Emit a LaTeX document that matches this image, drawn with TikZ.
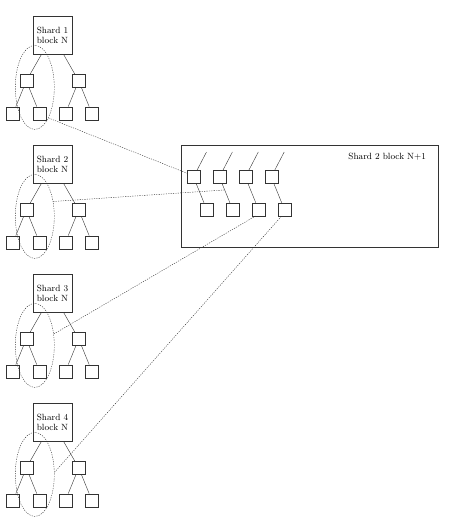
\documentclass[tikz,border=0pt]{standalone}
\usepackage{amsmath}
\usetikzlibrary{calc,positioning,shapes.geometric}

\begin{document}
\begin{tikzpicture}[
                x=1pt,y=1pt,
                every node/.append style={draw=black!80,inner sep=0pt},
                leaf/.style={rectangle,minimum size=13pt},
                root/.style={rectangle,minimum width=39pt,minimum height=38pt,align=center,font=\fontsize{9}{10}\selectfont},
                ring/.style={ellipse,minimum width=39pt,minimum height=84pt,dash pattern=on 1.2pt off 1.2pt},
                link/.style={black!80,dash pattern=on 1.2pt off 1.2pt}
            ]
                \useasboundingbox (0,0) rectangle (459,-517);
                % block N trees
                \foreach \s in {1,...,4}{
                    \node[root] (R\s) at (52.5,{-35-129*(\s-1)}) {Shard \s\\block N};
                    \node[leaf] (A\s) [below left=20pt and 19.5pt of R\s.south]  {};
                    \node[leaf] (B\s) [below right=20pt and 19.5pt of R\s.south] {};
                    \node[leaf] (L\s-1) [below left=19pt and 6.5pt of A\s.south]  {};
                    \node[leaf] (L\s-2) [below right=19pt and 6.5pt of A\s.south] {};
                    \node[leaf] (L\s-3) [below left=19pt and 6.5pt of B\s.south]  {};
                    \node[leaf] (L\s-4) [below right=19pt and 6.5pt of B\s.south] {};
                    \draw[black!80] (A\s) -- (R\s) -- (B\s);
                    \draw[black!80] (L\s-1) -- (A\s) -- (L\s-2);
                    \draw[black!80] (L\s-3) -- (B\s) -- (L\s-4);
                    \node[ring] (E\s) at ($(A\s)+(8.5,-6.5)$) {};
                }
                % block N+1
                \node[minimum width=257.5pt,minimum height=102pt] (NB) at (309.75,-196) {};
                \node[draw=none,font=\fontsize{9}{10}\selectfont] (NL) [below left=8.5pt and 12.5pt of NB.north east] {Shard 2 block N+1};
                \node[leaf] (U1) [below right=25.5pt and 6pt of NB.north west] {};
                \foreach \j [count=\k from 2] in {1,2,3}
                    \node[leaf] (U\k) [right=12.5pt of U\j] {};
                \foreach \j in {1,...,4}{
                    \node[leaf] (D\j) [below right=19pt and 6.5pt of U\j.south] {};
                    \coordinate (P\j) at ($(U\j)+(13,25)$);
                    \draw[black!80] (P\j) -- (U\j) -- (D\j);
                }
                \coordinate (M) at ($(U2)!0.4!(D2)$);
                \draw[link] (E1.-66) -- (U1.150);
                \draw[link] (E2.39)  -- (M);
                \draw[link] (E3.31)  -- (D3.-115);
                \draw[link] (E4.6)   -- (D4.-113);
            \end{tikzpicture}
\end{document}
